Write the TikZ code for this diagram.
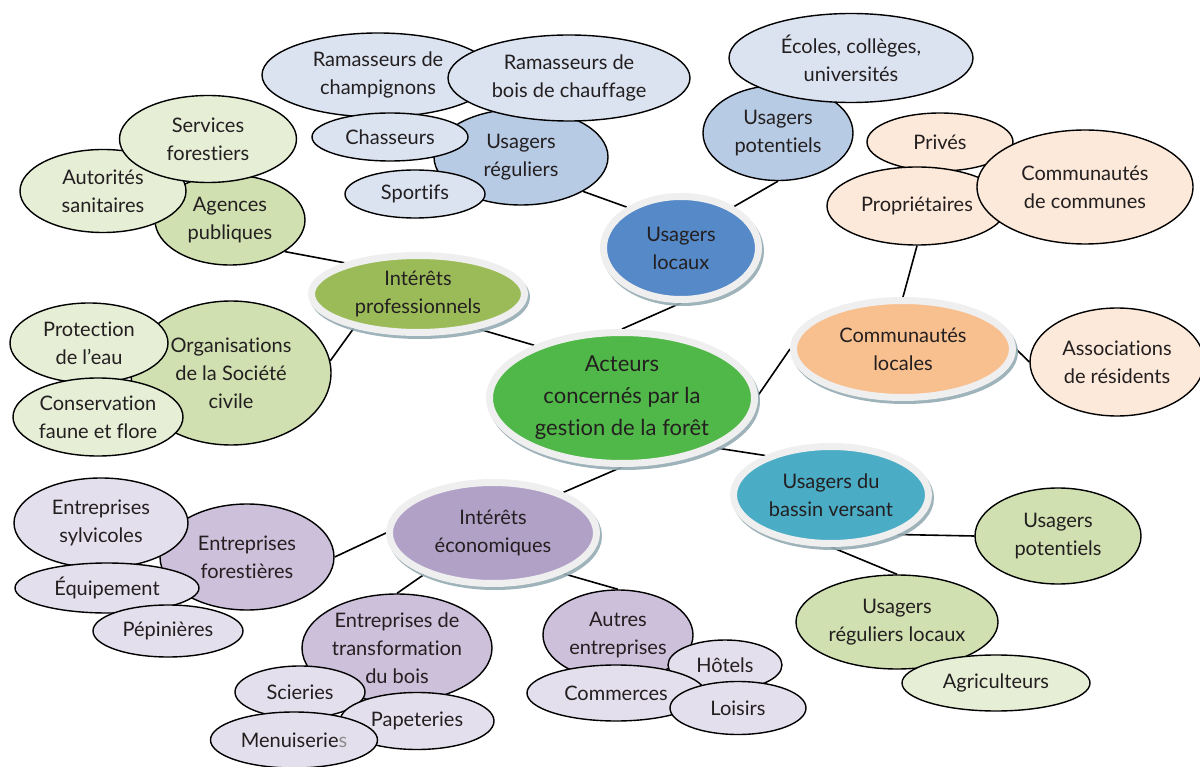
\documentclass[tikz,border=0pt]{standalone}
\usepackage{fontspec}
\setmainfont[Ligatures={NoCommon}]{Lato}
\usetikzlibrary{shapes.geometric,shadows,backgrounds}
\definecolor{txt}{HTML}{231F20}
\definecolor{ringc}{HTML}{EFEFEF}
\definecolor{shadowc}{HTML}{94ABB2}
\definecolor{cCenter}{HTML}{50B848}
\definecolor{cProf}{HTML}{9BBB59}
\definecolor{cLoc}{HTML}{5589C7}
\definecolor{cCom}{HTML}{F8BF8F}
\definecolor{cBas}{HTML}{4AACC5}
\definecolor{cEco}{HTML}{B1A1C7}
\definecolor{blueL}{HTML}{DBE3F1}
\definecolor{blueM}{HTML}{B8CBE4}
\definecolor{greenL}{HTML}{E6EED6}
\definecolor{greenM}{HTML}{D0E0B0}
\definecolor{peachL}{HTML}{FDE9D9}
\definecolor{purpleL}{HTML}{E4DFEC}
\definecolor{purpleM}{HTML}{CCC0DA}
\tikzset{
  base/.style={ellipse, inner sep=-40pt, align=center, text=txt,
    font=\fontsize{20}{28}\selectfont},
  mainnode/.style={base, draw=ringc, line width=7pt,
    drop shadow={shadow xshift=2pt, shadow yshift=-3pt, fill=shadowc, draw=shadowc, line width=7pt, opacity=0.9}},
  leaf/.style={base, draw=black, line width=1.4pt},
  sz/.style 2 args={minimum width=#1pt, minimum height=#2pt},
  conn/.style={draw=black, line width=1.6pt}
}
\begin{document}
\begin{tikzpicture}[x=1pt,y=-1pt]
\useasboundingbox (0,0) rectangle (1200,767);

% ---- main nodes
\node[mainnode, fill=cCenter, sz={265}{131}, font=\fontsize{22}{32}\selectfont] (center) at (622,398) {Acteurs\\concernés par la\\gestion de la forêt};
\node[mainnode, fill=cProf, sz={213}{77}] (prof) at (418,294) {Intérêts\\professionnels};
\node[mainnode, fill=cLoc, sz={155}{103}] (loc) at (681,248) {Usagers\\locaux};
\node[mainnode, fill=cCom, sz={219}{97}] (coml) at (903,349) {Communautés\\locales};
\node[mainnode, fill=cBas, sz={195}{97}] (bas) at (831,495) {Usagers du\\bassin versant};
\node[mainnode, fill=cEco, sz={207}{101}] (eco) at (493,533) {Intérêts\\économiques};

% ---- blue group
\node[leaf, fill=blueM, sz={174}{96}] (ureg) at (521,157) {Usagers\\réguliers};
\node[leaf, fill=blueL, sz={232}{84}] (champ) at (378,75) {Ramasseurs de\\champignons};
\node[leaf, fill=blueL, sz={242}{86}] (bois) at (569,78) {Ramasseurs de\\bois de chauffage};
\node[leaf, fill=blueL, sz={156}{48}] (chas) at (390,137) {Chasseurs};
\node[leaf, fill=blueL, sz={140}{48}] (sport) at (415,194) {Sportifs};
\node[leaf, fill=blueM, sz={150}{95}] (upot) at (778,133) {Usagers\\potentiels};
\node[leaf, fill=blueL, sz={244}{89}] (ecoles) at (851,58) {Écoles, collèges,\\universités};

% ---- orange group
\node[leaf, fill=peachL, sz={146}{58}] (prives) at (940,142) {Privés};
\node[leaf, fill=peachL, sz={180}{78}] (prop) at (917,206) {Propriétaires};
\node[leaf, fill=peachL, sz={216}{114}] (ccom) at (1085,187) {Communautés\\de communes};
\node[leaf, fill=peachL, sz={174}{108}] (assoc) at (1117,362) {Associations\\de résidents};

% ---- green group
\node[leaf, fill=greenM, sz={150}{90}] (agences) at (230,220) {Agences\\publiques};
\node[leaf, fill=greenL, sz={166}{83}] (autor) at (103,191) {Autorités\\sanitaires};
\node[leaf, fill=greenL, sz={177}{87}] (serv) at (208,139) {Services\\forestiers};
\node[leaf, fill=greenM, sz={200}{144}] (org) at (231,373) {Organisations\\de la Société\\civile};
\node[leaf, fill=greenL, sz={158}{80}] (prot) at (89,343) {Protection\\de l’eau};
\node[leaf, fill=greenL, sz={170}{78}] (cons) at (98,417) {Conservation\\faune et flore};

% ---- bassin group
\node[leaf, fill=greenM, sz={166}{96}] (upotv) at (1058,536) {Usagers\\potentiels};
\node[leaf, fill=greenM, sz={202}{94}] (ureglo) at (897,622) {Usagers\\réguliers locaux};
\node[leaf, fill=greenL, sz={188}{56}] (agri) at (996,683) {Agriculteurs};

% ---- purple group
\node[leaf, fill=purpleM, sz={174}{106}] (forest) at (247,557) {Entreprises\\forestières};
\node[leaf, fill=purpleL, sz={174}{90}] (sylv) at (101,523) {Entreprises\\sylvicoles};
\node[leaf, fill=purpleL, sz={184}{50}] (equip) at (107,588) {Équipement};
\node[leaf, fill=purpleL, sz={150}{52}] (pepin) at (168,631) {Pépinières};
\node[leaf, fill=purpleM, sz={190}{108}] (transf) at (397,648) {Entreprises de\\transformation\\du bois};
\node[leaf, fill=purpleL, sz={130}{52}] (scier) at (300,692) {Scieries};
\node[leaf, fill=purpleL, sz={154}{57}] (papet) at (417,721) {Papeteries};
\node[leaf, fill=purpleL, sz={167}{56}] (menuis) at (294,740) {Menuiserie\textcolor{black!45}{s}};
\node[leaf, fill=purpleM, sz={150}{90}] (autres) at (618,635) {Autres\\entreprises};
\node[leaf, fill=purpleL, sz={114}{50}] (hotels) at (725,665) {Hôtels};
\node[leaf, fill=purpleL, sz={178}{56}] (comm) at (616,693) {Commerces};
\node[leaf, fill=purpleL, sz={136}{53}] (loisirs) at (738,708) {Loisirs};

% ---- connectors
\begin{pgfonlayer}{background}
\draw[conn] (prof.-30) -- (center.149);
\draw[conn] (center.90) -- (loc.-90);
\draw[conn] (loc.143) -- (ureg.-29);
\draw[conn] (loc.38) -- (upot.-90);
\draw[conn] (center.1) -- (coml.180);
\draw[conn] (coml.90) -- (prop.-90);
\draw[conn] (coml.0) -- (assoc.180);
\draw[conn] (center.-28) -- (bas.149);
\draw[conn] (bas.-31) -- (upotv.180);
\draw[conn] (bas.-90) -- (ureglo.90);
\draw[conn] (center.-90) -- (eco.30);
\draw[conn] (eco.180) -- (forest.0);
\draw[conn] (eco.-149) -- (transf.90);
\draw[conn] (eco.-30) -- (autres.90);
\draw[conn] (agences.-30) -- (prof.157);
\draw[conn] (prof.-152) -- (org.7);
\end{pgfonlayer}
\end{tikzpicture}
\end{document}
